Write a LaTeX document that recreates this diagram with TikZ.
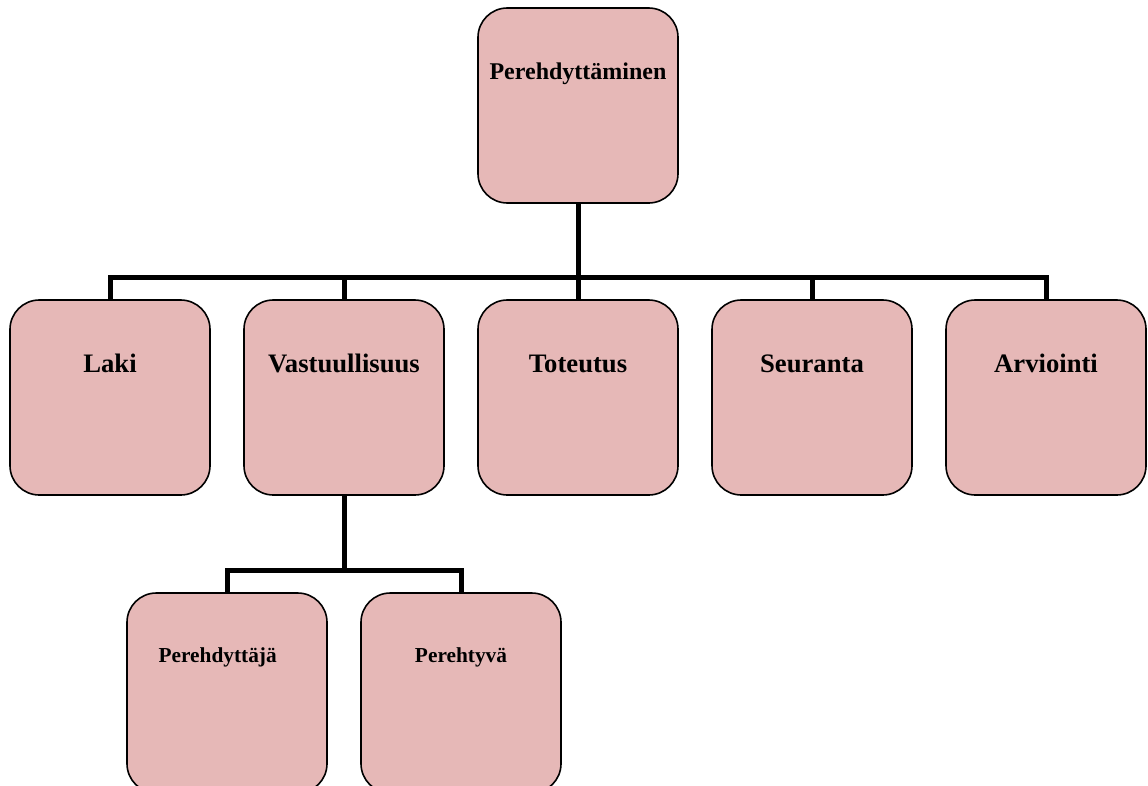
\documentclass[tikz,border=0pt]{standalone}
\usepackage{fontspec}
\setmainfont{Liberation Serif}
\usepackage{tikz}
\usetikzlibrary{positioning}
\definecolor{boxpink}{RGB}{230, 184, 183}

\begin{document}
\begin{tikzpicture}[x=0.75pt, y=-0.75pt,
    box/.style={draw=black, line width=1.2pt, rounded corners=22pt, fill=boxpink,
                minimum width=150pt, minimum height=146.25pt, inner sep=0pt,
                outer sep=0pt, text height=54.5pt, text depth=91.75pt,
                font=\fontsize{20}{24}\selectfont\bfseries},
    topbox/.style={box, text height=53.25pt, text depth=93pt,
                   font=\fontsize{18}{22}\selectfont\bfseries},
    subbox/.style={box, minimum height=150pt, text height=52pt, text depth=98pt,
                   font=\fontsize{16}{19}\selectfont\bfseries},
    conn/.style={line width=3.75pt, line join=miter}
]
    \useasboundingbox (0,0) rectangle (1148,785);
    % top level
    \node[topbox] (top) at (578,105.5) {Perehdyttäminen};
    % second level
    \node[box, below=72.75pt of top] (toteutus) {Toteutus};
    \node[box, left=25.5pt of toteutus] (vastuu) {Vastuullisuus};
    \node[box, left=25.5pt of vastuu] (laki) {Laki};
    \node[box, right=25.5pt of toteutus] (seuranta) {Seuranta};
    \node[box, right=25.5pt of seuranta] (arviointi) {Arviointi};
    % third level
    \node[subbox] (perehdyttaja) at (227,693) {Perehdyttäjä\hspace*{14pt}};
    \node[subbox, right=25.5pt of perehdyttaja] (perehtyva) {Perehtyvä};

    \coordinate (bus) at (578,277);
    \coordinate (subbus) at (344,570);
    \draw[conn] (top.south) -- (bus);
    \draw[conn] (laki.north) -- (laki.north |- bus) -- (arviointi.north |- bus) -- (arviointi.north);
    \foreach \n in {vastuu, toteutus, seuranta}
        \draw[conn] (\n.north) -- (\n.north |- bus);
    \draw[conn] (vastuu.south) -- (subbus);
    \draw[conn] (perehdyttaja.north) -- (perehdyttaja.north |- subbus) -- (perehtyva.north |- subbus) -- (perehtyva.north);
\end{tikzpicture}
\end{document}
